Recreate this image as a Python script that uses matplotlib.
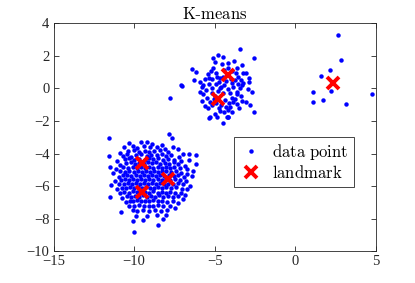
import numpy as np
import matplotlib
matplotlib.use("Agg")
import matplotlib.pyplot as plt

# --------------------------------------------------
# Data
# --------------------------------------------------
big_cluster = [
    (-7.82, -2.82), (-7.63, -3.03), (-11.54, -3.07),
    (-10.3, -3.35), (-9.6, -3.3), (-9.2, -3.28), (-8.9, -3.4), (-8.3, -3.45),
    (-10.6, -3.6), (-10.1, -3.55), (-9.8, -3.65), (-9.4, -3.55), (-9.0, -3.6),
    (-8.6, -3.58), (-8.1, -3.7), (-7.6, -3.6),
    (-10.9, -3.95), (-10.4, -3.85), (-10.0, -3.8), (-9.7, -3.9), (-9.3, -3.82),
    (-9.05, -3.9), (-8.75, -3.85), (-8.4, -3.8), (-7.9, -3.9), (-7.3, -3.75),
    (-6.95, -4.0),
    (-11.56, -4.15), (-10.7, -4.15), (-10.45, -4.05), (-10.2, -4.2), (-9.9, -4.1),
    (-9.55, -4.05), (-9.2, -4.15), (-8.95, -4.08), (-8.6, -4.12), (-8.3, -4.05),
    (-8.0, -4.15), (-7.7, -4.1), (-7.2, -4.2), (-6.6, -4.05), (-6.17, -4.1),
    (-11.05, -4.45), (-10.55, -4.35), (-10.3, -4.3), (-10.0, -4.38), (-9.7, -4.32),
    (-9.35, -4.4), (-9.1, -4.3), (-8.8, -4.35), (-8.5, -4.3), (-8.2, -4.4),
    (-7.9, -4.33), (-7.5, -4.38), (-7.1, -4.45), (-6.6, -4.4),
    (-11.5, -4.8), (-10.85, -4.7), (-10.5, -4.6), (-10.2, -4.55), (-9.95, -4.62),
    (-9.7, -4.58), (-9.4, -4.65), (-9.15, -4.55), (-8.9, -4.6), (-8.65, -4.55),
    (-8.4, -4.62), (-8.1, -4.58), (-7.85, -4.65), (-7.55, -4.55), (-7.25, -4.62),
    (-6.85, -4.75), (-6.17, -4.67),
    (-11.1, -4.95), (-10.7, -4.85), (-10.4, -4.88), (-10.1, -4.8), (-9.85, -4.9),
    (-9.55, -4.82), (-9.3, -4.88), (-9.05, -4.8), (-8.8, -4.9), (-8.55, -4.83),
    (-8.3, -4.88), (-8.05, -4.8), (-7.8, -4.9), (-7.5, -4.85), (-7.15, -4.92),
    (-6.7, -4.95), (-6.35, -5.05),
    (-11.3, -5.2), (-10.85, -5.1), (-10.55, -5.15), (-10.3, -5.05), (-10.0, -5.12),
    (-9.75, -5.08), (-9.5, -5.15), (-9.25, -5.05), (-9.0, -5.12), (-8.75, -5.08),
    (-8.5, -5.15), (-8.25, -5.05), (-8.0, -5.1), (-7.7, -5.15), (-7.4, -5.08),
    (-7.1, -5.2), (-6.7, -5.25),
    (-10.95, -5.45), (-10.7, -5.35), (-10.45, -5.3), (-10.2, -5.38), (-9.9, -5.32),
    (-9.65, -5.4), (-9.4, -5.3), (-9.15, -5.36), (-8.9, -5.3), (-8.65, -5.38),
    (-8.4, -5.32), (-8.15, -5.4), (-7.85, -5.33), (-7.55, -5.38), (-7.25, -5.3),
    (-6.9, -5.45), (-6.4, -5.4),
    (-11.2, -5.7), (-10.8, -5.6), (-10.55, -5.58), (-10.3, -5.65), (-10.05, -5.55),
    (-9.8, -5.62), (-9.55, -5.56), (-9.3, -5.64), (-9.05, -5.58), (-8.8, -5.62),
    (-8.55, -5.55), (-8.3, -5.65), (-8.05, -5.58), (-7.75, -5.63), (-7.45, -5.57),
    (-7.15, -5.65), (-6.8, -5.7),
    (-11.45, -5.95), (-10.95, -5.85), (-10.65, -5.88), (-10.4, -5.82), (-10.15, -5.9),
    (-9.9, -5.84), (-9.65, -5.88), (-9.4, -5.8), (-9.15, -5.9), (-8.9, -5.83),
    (-8.65, -5.88), (-8.4, -5.8), (-8.15, -5.9), (-7.9, -5.85), (-7.6, -5.88),
    (-7.3, -5.82), (-6.95, -5.9), (-6.55, -6.0),
    (-11.05, -6.2), (-10.75, -6.1), (-10.5, -6.12), (-10.25, -6.05), (-10.0, -6.15),
    (-9.75, -6.08), (-9.5, -6.12), (-9.25, -6.05), (-9.0, -6.15), (-8.75, -6.1),
    (-8.5, -6.05), (-8.25, -6.15), (-8.0, -6.08), (-7.7, -6.12), (-7.4, -6.05),
    (-7.05, -6.18), (-6.75, -6.2),
    (-11.5, -6.7), (-10.85, -6.45), (-10.6, -6.35), (-10.35, -6.4), (-10.1, -6.32),
    (-9.85, -6.38), (-9.3, -6.35), (-9.05, -6.42), (-8.8, -6.33), (-8.55, -6.4),
    (-8.3, -6.35), (-8.05, -6.42), (-7.75, -6.35), (-7.45, -6.4), (-7.1, -6.45),
    (-6.85, -6.55),
    (-10.75, -6.75), (-10.45, -6.6), (-10.2, -6.68), (-9.95, -6.6), (-9.7, -6.65),
    (-9.45, -6.58), (-9.2, -6.66), (-8.95, -6.6), (-8.7, -6.65), (-8.45, -6.58),
    (-8.2, -6.66), (-7.9, -6.6), (-7.6, -6.68), (-7.3, -6.62), (-7.0, -6.8),
    (-10.5, -7.0), (-10.25, -6.9), (-10.05, -6.95), (-9.8, -6.88), (-9.55, -6.95),
    (-9.3, -6.9), (-9.05, -6.95), (-8.8, -6.88), (-8.55, -6.95), (-8.25, -6.9),
    (-7.95, -6.96), (-7.6, -6.9), (-7.3, -7.05),
    (-10.3, -7.25), (-10.0, -7.25), (-9.7, -7.18), (-9.4, -7.25), (-9.1, -7.2),
    (-8.8, -7.22), (-8.5, -7.18), (-8.2, -7.25), (-7.8, -7.2), (-7.45, -7.35),
    (-10.82, -7.58), (-10.1, -7.5), (-9.8, -7.55), (-9.45, -7.48), (-9.1, -7.55),
    (-8.7, -7.5), (-8.35, -7.55), (-7.95, -7.5),
    (-9.9, -7.85), (-9.2, -7.85), (-8.6, -7.8), (-8.05, -7.8),
    (-10.09, -8.13), (-9.43, -8.09), (-8.23, -8.05), (-8.5, -8.4), (-9.99, -8.83),
]

mid_cluster = [
    (-4.78, 2.06), (-4.47, 1.96), (-5.13, 1.9), (-4.99, 1.65), (-5.09, 1.28),
    (-6.43, 1.18), (-6.17, 1.0), (-6.29, 0.52), (-7.05, 0.17), (-5.92, 0.38),
    (-5.71, 0.22), (-5.34, 0.67), (-5.19, 0.57), (-4.72, 0.42), (-4.47, 0.73),
    (-5.81, 0.11), (-5.55, -0.09), (-5.19, 0.01), (-4.68, 0.01), (-4.41, 0.22),
    (-5.71, -0.36), (-5.5, -0.6), (-5.3, -0.81), (-5.61, -1.06), (-5.4, -1.22),
    (-5.19, -1.02), (-4.68, -1.37), (-5.3, -1.77), (-7.78, -0.6),
    (-3.44, 2.43), (-2.55, 1.86), (-3.33, 1.45), (-4.16, 1.55), (-3.23, 0.94),
    (-3.08, 0.94), (-2.88, 0.67), (-3.54, 0.73), (-3.38, 0.52), (-3.75, 0.52),
    (-3.23, 0.32), (-3.85, 0.11), (-3.44, 0.01), (-2.96, -0.05), (-3.64, -0.2),
    (-4.06, -0.3), (-3.95, -0.6), (-3.75, -0.65), (-3.33, -0.77), (-3.08, -0.81),
    (-2.82, -1.02), (-3.64, -0.97), (-4.06, -1.12), (-4.16, -1.32), (-3.95, -1.43),
    (-2.55, -1.43), (-4.2, -1.73),
    (-4.9, 0.3), (-4.6, 0.1), (-4.3, 0.45), (-4.0, 0.6), (-3.9, 0.35),
    (-4.2, -0.05), (-4.5, -0.3), (-4.8, -0.15), (-5.0, -0.45), (-4.9, -0.9),
    (-4.6, -1.0), (-4.35, -0.7), (-4.1, -0.9), (-5.2, -0.3), (-4.95, 0.95),
    (-4.7, 0.65), (-4.45, 1.15), (-4.2, 1.25), (-3.95, 1.05), (-3.7, 0.95),
    (-4.55, 1.5), (-5.4, 0.9), (-5.6, 0.6), (-3.6, -0.35), (-3.4, -0.45),
    (-4.75, -1.2), (-4.45, -1.45), (-5.0, -1.55), (-4.25, -1.75), (-5.34, -1.8),
    (-4.16, -1.78), (-5.8, -0.8), (-5.9, -0.2), (-3.3, 0.2), (-3.6, 1.25),
    (-2.9, 0.4), (-2.7, -0.2), (-4.47, -2.14), (-7.09, 0.22),
    (-5.35, 0.3), (-5.05, -0.65), (-4.3, -1.15), (-3.85, -0.85), (-3.55, 0.25),
    (-4.85, 0.7), (-5.25, 1.05), (-3.8, 1.7), (-4.85, -1.75), (-3.5, -1.2),
]

right_cluster = [
    (2.66, 3.29), (2.82, 1.77), (2.14, 1.12), (1.58, 0.77), (2.2, -0.14),
    (1.07, -0.24), (1.1, -0.83), (1.69, -0.71), (3.11, -0.93), (4.75, -0.32),
]

landmark_x = [-9.5, -7.92, -9.53, -4.2, -4.82, 2.31]
landmark_y = [-4.6, -5.59, -6.39, 0.83, -0.63, 0.36]

points = np.array(big_cluster + mid_cluster + right_cluster)

# --------------------------------------------------
# Plot
# --------------------------------------------------
plt.rcParams["font.family"] = ["Liberation Serif", "DejaVu Serif"]
plt.rcParams["mathtext.fontset"] = "cm"

fig = plt.figure(figsize=(4.15, 2.83), dpi=100)
ax = fig.add_axes([0.129, 0.113, 0.777, 0.804])

ax.plot(points[:, 0], points[:, 1], "o", color="#0000ff",
        markersize=3.2, markeredgewidth=0, label=r"$\mathrm{data\ point}$")
ax.plot(landmark_x, landmark_y, "x", color="#ff0000",
        markersize=8.5, markeredgewidth=2.8, label=r"$\mathrm{landmark}$")

ax.set_xlim(-15, 5)
ax.set_ylim(-10, 4)
ax.set_xticks([-15, -10, -5, 0, 5])
ax.set_yticks([-10, -8, -6, -4, -2, 0, 2, 4])
ax.tick_params(direction="in", top=True, right=True, length=3.5,
               width=0.6, colors="#262626", labelsize=10.5, pad=3)
for spine in ax.spines.values():
    spine.set_color("#262626")
    spine.set_linewidth(0.6)

ax.set_title(r"$\mathrm{K}$-$\mathrm{means}$", fontsize=12, pad=3)

leg = ax.legend(loc="lower left", bbox_to_anchor=(0.56, 0.281),
                borderaxespad=0, fancybox=False, framealpha=1,
                edgecolor="#262626", fontsize=12, handlelength=1.4,
                handletextpad=0.6, borderpad=0.3, labelspacing=0.2)
leg.get_frame().set_linewidth(0.6)

fig.savefig("out.png", dpi=100)
plt.close(fig)
